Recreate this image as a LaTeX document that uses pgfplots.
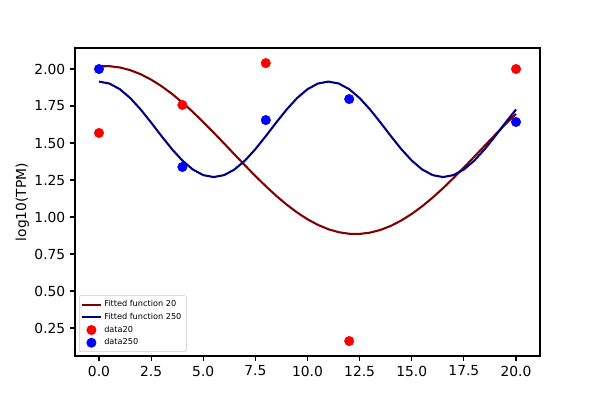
\documentclass[border=0pt]{standalone}
\usepackage{pgfplots}
\pgfplotsset{compat=1.18}
\usepackage{fontspec}
\setmainfont{DejaVu Sans}
\definecolor{lred}{HTML}{800000}
\definecolor{lblue}{HTML}{000080}
\pgfplotsset{
  linelegend/.style={legend image code/.code={\draw[##1] (0cm,0cm) -- (0.46cm,0cm);}},
  marklegend/.style={legend image code/.code={\draw[##1] plot coordinates {(0.23cm,0cm)};}},
}
\begin{document}
\begin{tikzpicture}
\path[use as bounding box] (0,0) rectangle (6in,4in);
\begin{axis}[
  at={(0.75in,0.44in)}, anchor=south west,
  scale only axis, width=4.65in, height=3.08in,
  xmin=-1.15, xmax=21.15, ymin=0.061, ymax=2.142,
  xtick={0,2.5,...,20}, ytick={0.25,0.5,...,2.0},
  tick align=outside, tick pos=left, major tick length=3.5pt,
  every tick/.style={black, line width=0.8pt},
  axis line style={line width=0.8pt},
  tick label style={font=\fontsize{10}{12}\selectfont},
  /pgf/number format/assume math mode=true,
  xticklabel style={/pgf/number format/.cd, fixed, fixed zerofill, precision=1},
  yticklabel style={/pgf/number format/.cd, fixed, fixed zerofill, precision=2},
  ylabel={log10(TPM)}, ylabel shift=-3pt,
  ylabel style={font=\fontsize{10}{12}\selectfont},
  legend style={font=\fontsize{5.9}{7}\selectfont, draw=black!20, rounded corners=1pt, inner sep=1.5pt, row sep=-0.8pt, at={(0.0086,0.013)}, anchor=south west},
  legend cell align=left,
]
\addplot[only marks, mark=*, mark size=3.4pt, color=red, forget plot] coordinates {
(0,1.568) (4,1.757) (8,2.04) (12,0.162) (20,2.0)};
\addplot[only marks, mark=*, mark size=3.4pt, color=blue, forget plot] coordinates {
(0,2.0) (4,1.338) (8,1.655) (12,1.797) (20,1.642)};
\addplot[color=lred, line width=1.5pt, linelegend] coordinates {
(0,2.0183) (0.5,2.0192) (1,2.0105) (1.5,1.9922) (2,1.9647) (2.5,1.9284) (3,1.8840) (3.5,1.8322) (4,1.7739) (4.5,1.7101) (5,1.6419) (5.5,1.5705) (6,1.4970) (6.5,1.4228) (7,1.3491) (7.5,1.2771) (8,1.2082) (8.5,1.1434) (9,1.0839) (9.5,1.0308) (10,0.9848) (10.5,0.9469) (11,0.9176) (11.5,0.8974) (12,0.8868) (12.5,0.8858) (13,0.8945) (13.5,0.9128) (14,0.9403) (14.5,0.9766) (15,1.0210) (15.5,1.0728) (16,1.1311) (16.5,1.1949) (17,1.2631) (17.5,1.3345) (18,1.4080) (18.5,1.4822) (19,1.5559) (19.5,1.6279) (20,1.6968)};
\addlegendentry{Fitted function 20}
\addplot[color=lblue, line width=1.5pt, linelegend] coordinates {
(0,1.9150) (0.5,1.9019) (1,1.8638) (1.5,1.8037) (2,1.7265) (2.5,1.6384) (3,1.5466) (3.5,1.4585) (4,1.3813) (4.5,1.3212) (5,1.2831) (5.5,1.2700) (6,1.2831) (6.5,1.3212) (7,1.3813) (7.5,1.4585) (8,1.5466) (8.5,1.6384) (9,1.7265) (9.5,1.8037) (10,1.8638) (10.5,1.9019) (11,1.9150) (11.5,1.9019) (12,1.8638) (12.5,1.8037) (13,1.7265) (13.5,1.6384) (14,1.5466) (14.5,1.4585) (15,1.3813) (15.5,1.3212) (16,1.2831) (16.5,1.2700) (17,1.2831) (17.5,1.3212) (18,1.3813) (18.5,1.4585) (19,1.5466) (19.5,1.6384) (20,1.7265)};
\addlegendentry{Fitted function 250}
\addlegendimage{only marks, mark=*, mark size=3.4pt, color=red, marklegend}
\addlegendentry{data20}
\addlegendimage{only marks, mark=*, mark size=3.4pt, color=blue, marklegend}
\addlegendentry{data250}
\end{axis}
\end{tikzpicture}
\end{document}
